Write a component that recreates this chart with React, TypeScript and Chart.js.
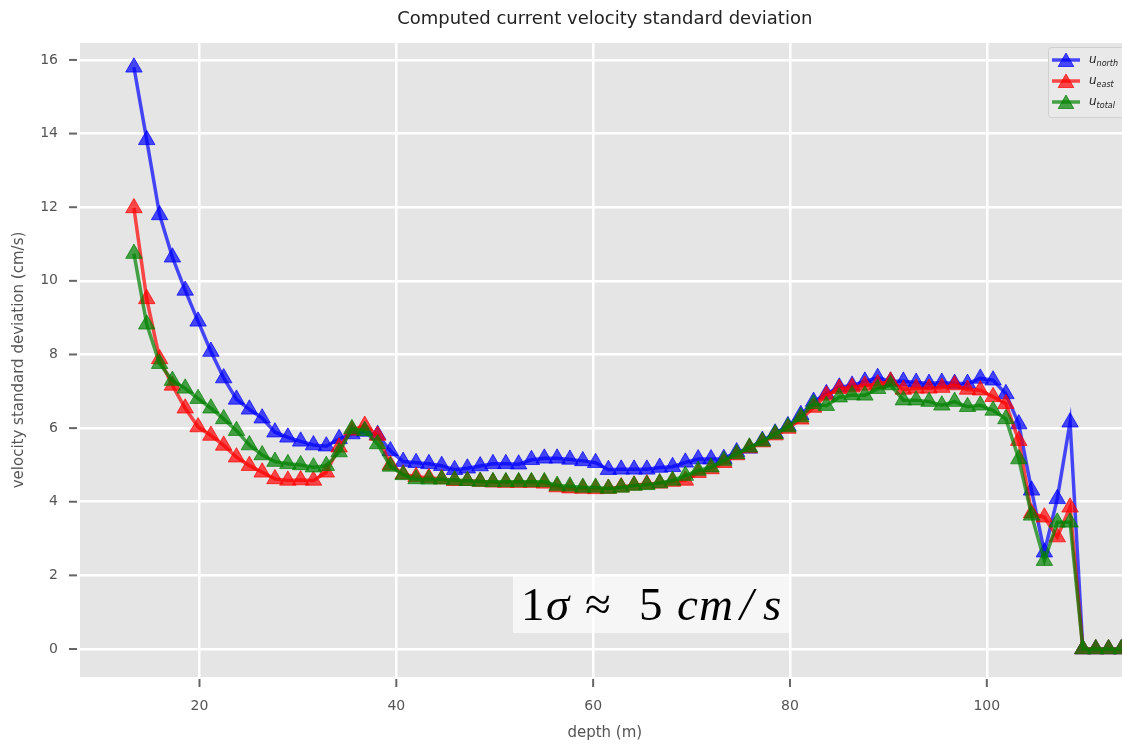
import React, { useEffect, useRef } from 'react';
import { Chart, registerables } from 'chart.js';

Chart.register(...registerables);

// depth of each bin (m)
const depths = [
  13.34, 14.64, 15.95, 17.25, 18.55, 19.86, 21.16, 22.46, 23.76, 25.07,
  26.37, 27.67, 28.98, 30.28, 31.58, 32.89, 34.19, 35.49, 36.79, 38.1,
  39.4, 40.7, 42.01, 43.31, 44.61, 45.92, 47.22, 48.52, 49.82, 51.13,
  52.43, 53.73, 55.04, 56.34, 57.64, 58.95, 60.25, 61.55, 62.85, 64.16,
  65.46, 66.76, 68.07, 69.37, 70.67, 71.98, 73.28, 74.58, 75.88, 77.19,
  78.49, 79.79, 81.1, 82.4, 83.7, 85.01, 86.31, 87.61, 88.91, 90.22,
  91.52, 92.82, 94.13, 95.43, 96.73, 98.04, 99.34, 100.64, 101.94, 103.25,
  104.55, 105.85, 107.16, 108.46, 109.76, 111.07, 112.37, 113.67,
];

const uNorth = [
  15.8, 13.83, 11.79, 10.64, 9.74, 8.9, 8.08, 7.36, 6.78, 6.51,
  6.27, 5.89, 5.75, 5.64, 5.54, 5.51, 5.71, 5.84, 5.91, 5.82,
  5.38, 5.09, 5.06, 5.03, 4.98, 4.87, 4.91, 4.97, 5.03, 5.03,
  5.02, 5.14, 5.18, 5.18, 5.15, 5.11, 5.06, 4.87, 4.88, 4.88,
  4.88, 4.93, 4.95, 5.07, 5.16, 5.16, 5.17, 5.35, 5.45, 5.66,
  5.86, 6.06, 6.36, 6.72, 6.93, 7.11, 7.16, 7.27, 7.37, 7.27,
  7.27, 7.24, 7.21, 7.24, 7.21, 7.21, 7.35, 7.3, 6.93, 6.11,
  4.31, 2.63, 4.08, 6.16, 0, 0, 0, 0,
];

const uEast = [
  11.98, 9.51, 7.88, 7.16, 6.54, 6.03, 5.8, 5.53, 5.21, 4.98,
  4.8, 4.62, 4.58, 4.59, 4.58, 4.8, 5.48, 5.94, 6.07, 5.8,
  5.0, 4.75, 4.68, 4.65, 4.62, 4.57, 4.57, 4.55, 4.53, 4.52,
  4.52, 4.52, 4.5, 4.4, 4.37, 4.36, 4.35, 4.36, 4.4, 4.45,
  4.48, 4.5, 4.55, 4.58, 4.79, 4.89, 5.06, 5.27, 5.46, 5.62,
  5.81, 5.99, 6.24, 6.56, 6.89, 7.07, 7.11, 7.16, 7.2, 7.27,
  7.05, 7.08, 7.08, 7.1, 7.17, 7.05, 7.03, 6.85, 6.66, 5.66,
  3.69, 3.58, 3.04, 3.85, 0, 0, 0, 0,
];

const uTotal = [
  10.74, 8.82, 7.75, 7.29, 7.08, 6.8, 6.54, 6.25, 5.93, 5.54,
  5.27, 5.09, 5.03, 5.0, 4.94, 4.98, 5.35, 5.98, 5.93, 5.57,
  4.96, 4.73, 4.62, 4.61, 4.61, 4.59, 4.57, 4.55, 4.54, 4.54,
  4.54, 4.54, 4.54, 4.44, 4.42, 4.39, 4.39, 4.36, 4.39, 4.44,
  4.46, 4.51, 4.58, 4.71, 4.85, 4.94, 5.12, 5.3, 5.48, 5.64,
  5.84, 6.03, 6.3, 6.66, 6.61, 6.84, 6.9, 6.89, 7.07, 7.17,
  6.76, 6.76, 6.72, 6.62, 6.72, 6.58, 6.62, 6.48, 6.25, 5.16,
  3.63, 2.4, 3.44, 3.44, 0, 0, 0, 0,
];

const xTicks = [20, 40, 60, 80, 100];
const yTicks = [0, 2, 4, 6, 8, 10, 12, 14, 16];
const seriesSubscripts = ['north', 'east', 'total'];
const seriesColors = ['rgba(0,0,255,0.7)', 'rgba(255,0,0,0.7)', 'rgba(0,128,0,0.7)'];
const titleText = 'Computed current velocity standard deviation';
const xLabel = 'depth (m)';
const yLabel = 'velocity standard deviation (cm/s)';

const POINT_R = 9.5;

function drawTriangle(ctx: CanvasRenderingContext2D, x: number, y: number, r: number) {
  ctx.beginPath();
  ctx.moveTo(x, y - r);
  ctx.lineTo(x + 0.866 * r, y + 0.5 * r);
  ctx.lineTo(x - 0.866 * r, y + 0.5 * r);
  ctx.closePath();
}

const decorPlugin = {
  id: 'decor',
  beforeDraw(chart: any) {
    const { ctx, chartArea: ca, width, height } = chart;
    ctx.save();
    ctx.fillStyle = '#ffffff';
    ctx.fillRect(0, 0, width, height);
    ctx.fillStyle = '#E5E5E5';
    ctx.fillRect(ca.left, ca.top, ca.right - ca.left, ca.bottom - ca.top);
    ctx.restore();
  },
  afterDraw(chart: any) {
    const { ctx, chartArea: ca } = chart;
    const xs = chart.scales.x;
    const ys = chart.scales.y;
    ctx.save();
    // tick marks
    ctx.strokeStyle = '#666';
    ctx.lineWidth = 2;
    yTicks.forEach((v) => {
      const py = ys.getPixelForValue(v);
      ctx.beginPath();
      ctx.moveTo(ca.left - 11, py);
      ctx.lineTo(ca.left - 3, py);
      ctx.stroke();
    });
    xTicks.forEach((v) => {
      const px = xs.getPixelForValue(v);
      ctx.beginPath();
      ctx.moveTo(px, ca.bottom + 2);
      ctx.lineTo(px, ca.bottom + 10);
      ctx.stroke();
    });

    // title
    ctx.fillStyle = '#222';
    ctx.font = '18px "DejaVu Sans"';
    ctx.textAlign = 'center';
    ctx.textBaseline = 'middle';
    ctx.fillText(titleText, (ca.left + ca.right) / 2, 19);

    // legend
    const lx = 1048, ly = 47, lw = 76, lh = 70;
    ctx.beginPath();
    if ((ctx as any).roundRect) (ctx as any).roundRect(lx + 0.5, ly + 0.5, lw, lh, 3);
    else ctx.rect(lx + 0.5, ly + 0.5, lw, lh);
    ctx.fillStyle = '#E9E9E9';
    ctx.fill();
    ctx.strokeStyle = '#CFCFCF';
    ctx.lineWidth = 1;
    ctx.stroke();
    seriesSubscripts.forEach((sub, i) => {
      const cy = 60 + i * 21;
      ctx.strokeStyle = seriesColors[i];
      ctx.lineWidth = 3.5;
      ctx.beginPath();
      ctx.moveTo(1052, cy);
      ctx.lineTo(1080, cy);
      ctx.stroke();
      drawTriangle(ctx, 1066, cy + 2, 9);
      ctx.fillStyle = seriesColors[i];
      ctx.fill();
      ctx.lineWidth = 1;
      ctx.stroke();
      ctx.fillStyle = '#222';
      ctx.textAlign = 'left';
      ctx.textBaseline = 'alphabetic';
      ctx.font = 'italic 12px "DejaVu Sans"';
      ctx.fillText('u', 1089, cy + 3);
      const uw = ctx.measureText('u').width;
      ctx.font = 'italic 8px "DejaVu Sans"';
      ctx.fillText(sub, 1089 + uw, cy + 6);
    });

    // annotation box
    ctx.fillStyle = 'rgba(255,255,255,0.66)';
    ctx.fillRect(513, 575, 277, 58);
    ctx.fillStyle = '#000';
    ctx.textAlign = 'left';
    ctx.textBaseline = 'alphabetic';
    const base = 620;
    const up = '47px "Liberation Serif"';
    const it = 'italic 47px "Liberation Serif"';
    const pieces: [string, string, number][] = [
      ['1', up, 521],
      ['\u03c3', it, 546],
      ['\u2248', up, 585],
      ['5', up, 639],
      ['c', it, 677],
      ['m', it, 699],
      ['/', it, 740],
      ['s', it, 763],
    ];
    pieces.forEach(([t, f, x]) => {
      ctx.font = f;
      ctx.fillText(t, x, base);
    });
    ctx.restore();
  },
};

export default function App() {
  const canvasRef = useRef<HTMLCanvasElement | null>(null);

  useEffect(() => {
    const canvas = canvasRef.current;
    if (!canvas) return;
    const series = [uNorth, uEast, uTotal];
    const chart = new Chart(canvas, {
      type: 'line',
      data: {
        datasets: series.map((vals, i) => ({
          label: 'u_' + seriesSubscripts[i],
          data: depths.map((d, j) => ({ x: d, y: vals[j] })),
          borderColor: seriesColors[i],
          backgroundColor: seriesColors[i],
          pointBackgroundColor: seriesColors[i],
          pointBorderColor: seriesColors[i],
          borderWidth: 3.5,
          pointStyle: 'triangle',
          pointRadius: POINT_R,
          pointHoverRadius: POINT_R,
          pointBorderWidth: 1,
          tension: 0,
          fill: false,
          order: 3 - i,
        })),
      },
      options: {
        responsive: false,
        animation: false,
        devicePixelRatio: 1,
        layout: { padding: { top: 43, right: 10, left: 0, bottom: 0 } },
        plugins: {
          legend: { display: false },
          title: { display: false },
          tooltip: { enabled: false },
        },
        events: [],
        scales: {
          x: {
            type: 'linear',
            min: 7.86,
            max: 114.5,
            afterBuildTicks: (s: any) => {
              s.ticks = xTicks.map((v) => ({ value: v }));
            },
            afterFit: (s: any) => {
              s.height = 67;
            },
            grid: { color: '#ffffff', lineWidth: 2.5, drawTicks: false },
            border: { display: false },
            ticks: {
              padding: 20.6,
              color: '#555',
              font: { family: 'DejaVu Sans', size: 14 },
              maxRotation: 0,
            },
            title: {
              display: true,
              text: xLabel,
              color: '#555',
              font: { family: 'DejaVu Sans', size: 15 },
              padding: { top: 0, bottom: 2 },
            },
          },
          y: {
            type: 'linear',
            min: -0.76,
            max: 16.46,
            afterBuildTicks: (s: any) => {
              s.ticks = yTicks.map((v) => ({ value: v }));
            },
            afterFit: (s: any) => {
              s.width = 80;
            },
            grid: { color: '#ffffff', lineWidth: 2.5, drawTicks: false },
            border: { display: false },
            ticks: {
              padding: 22,
              color: '#555',
              font: { family: 'DejaVu Sans', size: 14 },
            },
            title: {
              display: true,
              text: yLabel,
              color: '#555',
              font: { family: 'DejaVu Sans', size: 15 },
              padding: { top: 10, bottom: 0 },
            },
          },
        },
      },
      plugins: [decorPlugin],
    } as any);
    return () => chart.destroy();
  }, []);

  return (
    <div
      style={{
        position: 'fixed',
        left: 0,
        top: 0,
        width: 1122,
        height: 744,
        overflow: 'hidden',
        background: '#fff',
      }}
    >
      <canvas ref={canvasRef} width={1140} height={744} style={{ display: 'block', width: 1140, height: 744 }} />
    </div>
  );
}
